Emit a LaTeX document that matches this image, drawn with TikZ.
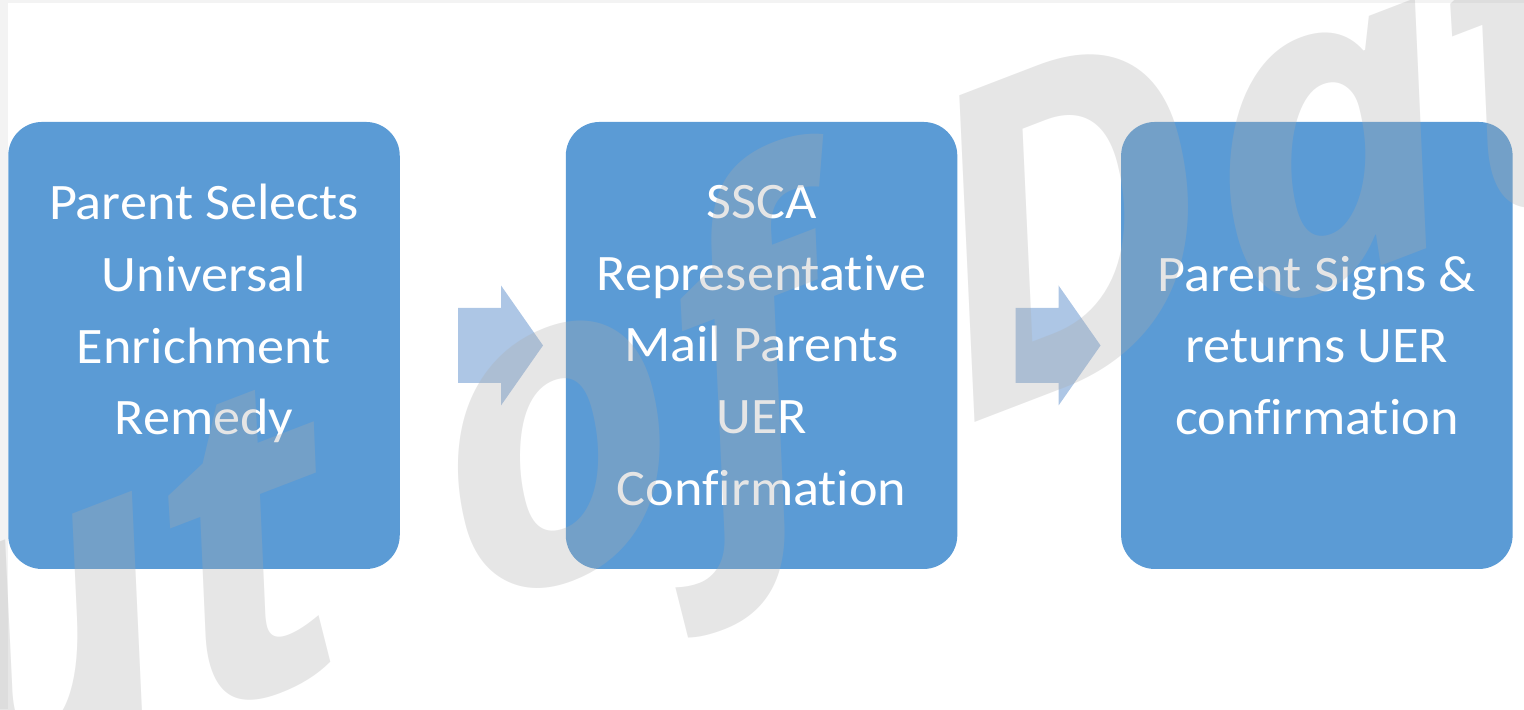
\documentclass[tikz,border=0pt]{standalone}
\usepackage{fontspec}
\setmainfont{Carlito}[FakeStretch=1.06, Ligatures=NoCommon]
\newfontfamily\stampfont{Open Sans}[BoldItalicFeatures={FakeSlant=0.12}]
\usetikzlibrary{positioning}

\definecolor{boxblue}{RGB}{91,155,213}
\definecolor{arrowblue}{RGB}{173,198,229}
\definecolor{stampgray}{RGB}{172,172,172}
\definecolor{framegray}{RGB}{243,243,243}

\tikzset{
    stage/.style={fill=boxblue, rounded corners=0.45cm, minimum width=5.22cm, minimum height=5.96cm,
        inner sep=0pt, text=white, align=center, font=\fontsize{19.4}{27.2}\selectfont},
    flow/.style={fill=arrowblue}
}

\begin{document}
\begin{tikzpicture}

            \useasboundingbox (0,0) rectangle (20.32,9.4533);
            \clip (0,0) rectangle (20.32,9.4533);

            \fill[framegray] (0,0) rectangle (0.1,9.4533);
            \fill[framegray] (0,9.413) rectangle (20.32,9.4533);

            \node[stage] (select) at (2.72,4.847) {Parent Selects\\Universal\\Enrichment\\Remedy\\\mbox{}};
            \node[stage, right=2.2cm of select] (mail) {SSCA\\Representative\\Mail Parents\\UER\\Confirmation};
            \node[stage, right=2.17cm of mail] (sign) {Parent Signs \&\\returns UER\\confirmation};

            \foreach \a in {select,mail} {
                    \fill[flow] ([xshift=0.77cm,yshift=0.5cm]\a.east) -- ++(0.573,0) -- ++(0,0.3)
                        -- ++(0.56,-0.8) -- ++(-0.56,-0.8) -- ++(0,0.3) -- ++(-0.573,0) -- cycle;
                }

            \node[rotate=21, anchor=base, inner sep=0pt, text=stampgray, opacity=0.3,
                font=\stampfont\bfseries\itshape\fontsize{165}{165}\selectfont] (stamp) at (10.2,2.75) {Out of Date};
        \end{tikzpicture}
\end{document}
